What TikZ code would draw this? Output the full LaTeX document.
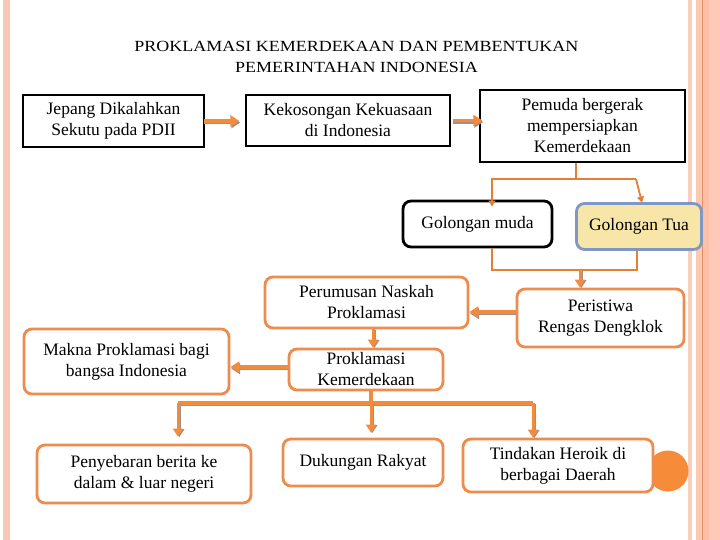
\documentclass[tikz,border=0pt]{standalone}
\usepackage{fontspec}
\setmainfont{Liberation Serif}
\newfontfamily\titlefont{Liberation Serif}[FakeStretch=1.16]
\usetikzlibrary{arrows.meta,calc}
\definecolor{boxorange}{HTML}{EE8B4E}
\definecolor{arroworange}{HTML}{F28C3C}
\definecolor{lineorange}{HTML}{E57F35}
\definecolor{shadowgray}{HTML}{A09088}
\definecolor{tuafill}{HTML}{F8E5A8}
\definecolor{tuablue}{HTML}{7E97C4}
\definecolor{circorange}{HTML}{F68B3A}
\definecolor{stripeA}{HTML}{F8C8B6}
\definecolor{stripeB}{HTML}{F9CFBC}
\definecolor{stripeC}{HTML}{FBC8B2}
\definecolor{stripeD}{HTML}{FDC0A6}
\definecolor{stripeE}{HTML}{FFC9B9}
\definecolor{stripeLine}{HTML}{E0906A}
\tikzset{
  txt/.style={font=\fontsize{17.5}{21}\selectfont, align=center, inner sep=0pt},
  plainbox/.style={txt, draw=black, line width=1.1pt, fill=white},
  obox/.style={txt, draw=boxorange, line width=2.8pt, rounded corners=8pt, fill=white},
  mudabox/.style={txt, draw=black, line width=2.8pt, rounded corners=8pt, fill=white},
  tuabox/.style={txt, draw=tuablue, line width=2.8pt, rounded corners=8pt, fill=tuafill},
  bigarrow/.style={draw=arroworange, line width=3.6pt, -{Triangle[length=9pt,width=11pt]},
    preaction={draw=shadowgray, line width=3.6pt, transform canvas={shift={(0.8pt,-1.6pt)}}}},
  medarrow/.style={draw=arroworange, line width=3pt, -{Triangle[length=8pt,width=10pt]},
    preaction={draw=shadowgray, line width=3pt, transform canvas={shift={(1.2pt,-0.6pt)}}}},
  busline/.style={draw=arroworange, line width=3.6pt,
    preaction={draw=shadowgray, line width=3.6pt, transform canvas={shift={(0.6pt,-1.6pt)}}}},
  thinline/.style={draw=lineorange, line width=1.8pt},
  thinarrow/.style={thinline, -{Triangle[length=6pt,width=7pt]}},
}
\begin{document}
\begin{tikzpicture}[x=1pt,y=-1pt]
\useasboundingbox (0,0) rectangle (720,540);
% decorative stripes
\fill[stripeA] (3,0) rectangle (9.5,540);
\fill[stripeB] (688,0) rectangle (692,540);
\fill[stripeC] (696,0) rectangle (702,540);
\fill[stripeD] (702,0) rectangle (709,540);
\fill[stripeE] (709,0) rectangle (720,540);
\draw[stripeLine, line width=1pt] (702.5,0) -- (702.5,540);

% title
\node[align=center, inner sep=0pt, font=\titlefont\fontsize{15.5}{21}\selectfont] (title) at (356.5,57)
  {PROKLAMASI KEMERDEKAAN DAN PEMBENTUKAN\\PEMERINTAHAN INDONESIA};

% top row
\node[plainbox, minimum width=181pt, minimum height=52pt] (jepang) at (113.5,121) {Jepang Dikalahkan\\Sekutu pada PDII};
\node[plainbox, minimum width=204pt, minimum height=51pt] (kekos) at (348,120.5) {Kekosongan Kekuasaan\\di Indonesia};
\node[plainbox, minimum width=205pt, minimum height=72pt] (pemuda) at (582.5,126) {Pemuda bergerak\\mempersiapkan\\Kemerdekaan};

% golongan
\node[mudabox, minimum width=149pt, minimum height=46pt] (muda) at (477.5,224) {Golongan muda};
\node[tuabox, minimum width=125pt, minimum height=46pt] (tua) at (639,226.5) {Golongan Tua};

% middle
\node[obox, minimum width=167pt, minimum height=58pt] (peristiwa) at (600.5,318) {Peristiwa\\Rengas Dengklok};
\node[obox, minimum width=203pt, minimum height=51pt] (perumusan) at (366.5,302.5) {Perumusan Naskah\\Proklamasi};
\node[obox, minimum width=154pt, minimum height=41pt] (proklamasi) at (366,369.5) {Proklamasi\\Kemerdekaan};
\node[obox, minimum width=205pt, minimum height=65pt] (makna) at (126.5,361.5) {Makna Proklamasi bagi\\bangsa Indonesia};

% bottom
\fill[circorange] (668,471) circle (20.5);
\node[obox, minimum width=214pt, minimum height=58pt] (penyebaran) at (144,474) {Penyebaran berita ke\\dalam \& luar negeri};
\node[obox, minimum width=160pt, minimum height=47pt] (dukungan) at (363,462.5) {Dukungan Rakyat};
\node[obox, minimum width=190pt, minimum height=53pt] (tindakan) at (558,465.5) {Tindakan Heroik di\\berbagai Daerah};

% connectors top row
\draw[bigarrow, shorten >=6pt, shorten <=-1pt] (jepang.east) -- (jepang.east -| kekos.west);
\draw[bigarrow, shorten >=-3pt, shorten <=2pt] (kekos.east) -- (kekos.east -| pemuda.west);

% pemuda to golongan
\coordinate (jc) at (576,179);
\coordinate (jl) at (492,179);
\coordinate (jr) at (636,179);
\draw[thinline] (pemuda.south -| jc) -- (jc);
\draw[thinarrow] (jr) -- (jl) -- ($(jl |- muda.north)+(0,7)$);
\draw[thinarrow] (jr) -- ($(tua.north)+(3,0.5)$);

% golongan to peristiwa
\coordinate (mb) at (492,270);
\coordinate (tb) at (637,270);
\coordinate (pk) at (580,270);
\draw[thinline] (muda.south -| mb) -- (mb) -- (tb) -- (tua.south -| tb);
\draw[medarrow] (pk) -- (pk |- peristiwa.north);

% middle connectors
\coordinate (pr) at (516,312);
\coordinate (pv) at (373,0);
\draw[bigarrow] (pr -| peristiwa.west) -- (pr -| perumusan.east);
\draw[medarrow] (perumusan.south -| pv) -- (proklamasi.north -| pv);
\coordinate (pm) at (288,367);
\draw[bigarrow] (pm -| proklamasi.west) -- (pm -| makna.east);

% bottom bus
\coordinate (bl) at (178,403);
\coordinate (bm) at (371,403);
\coordinate (br) at (533,403);
\draw[busline] (proklamasi.south -| bm) -- (bm);
\draw[busline] (bl) -- (br);
\draw[medarrow, shorten >=7pt] (bl) -- (bl |- penyebaran.north);
\draw[medarrow, shorten >=5pt] (bm) -- (bm |- dukungan.north);
\draw[medarrow] (br) -- (br |- tindakan.north);
\end{tikzpicture}
\end{document}
